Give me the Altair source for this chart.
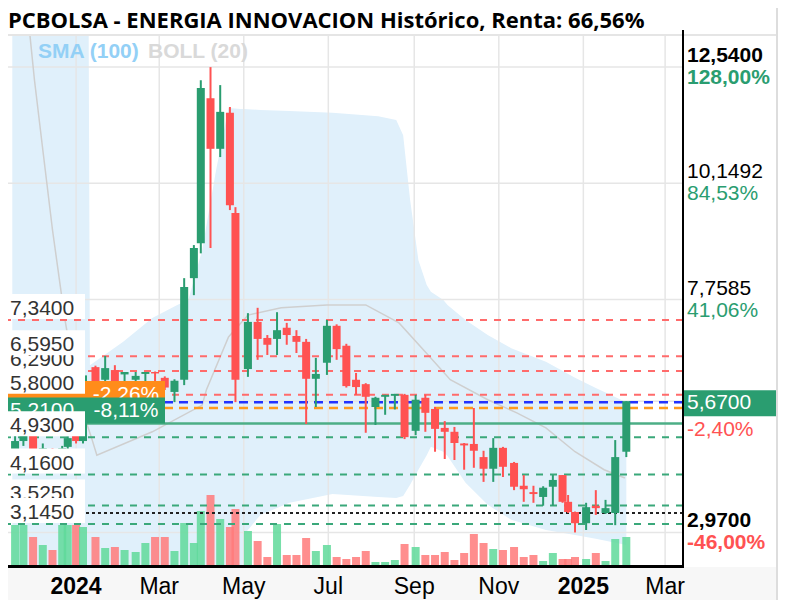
import altair as alt
import pandas as pd

# ---------------- weekly candles ----------------
candle_dates = [
    "2023-11-18", "2023-11-24", "2023-12-01", "2023-12-08", "2023-12-15", "2023-12-22", "2023-12-26",
    "2024-01-01", "2024-01-06", "2024-01-15", "2024-01-22", "2024-01-29", "2024-02-05", "2024-02-13", "2024-02-20", "2024-02-27",
    "2024-03-05", "2024-03-12", "2024-03-19", "2024-03-26", "2024-03-31", "2024-04-07", "2024-04-14", "2024-04-21", "2024-04-25",
    "2024-05-04", "2024-05-11", "2024-05-18", "2024-05-25", "2024-06-01", "2024-06-08", "2024-06-15", "2024-06-22", "2024-06-30",
    "2024-07-07", "2024-07-14", "2024-07-21", "2024-07-28", "2024-08-04", "2024-08-11", "2024-08-18", "2024-08-25", "2024-09-02",
    "2024-09-09", "2024-09-16", "2024-09-23", "2024-09-30", "2024-10-07", "2024-10-14", "2024-10-21", "2024-10-28", "2024-11-04",
    "2024-11-12", "2024-11-19", "2024-11-26", "2024-12-03", "2024-12-10", "2024-12-17", "2024-12-21", "2024-12-26",
    "2025-01-03", "2025-01-10", "2025-01-17", "2025-01-24", "2025-02-01",
]
opens = [
    4.60, 4.85, 5.00, 4.60, 4.65, 4.30, 4.73,
    5.05, 4.85, 6.37, 6.11, 6.31, 6.22, 6.11, 6.23, 6.27,
    6.15, 5.86, 6.11, 8.20, 8.92, 11.90, 10.86, 11.60, 9.54,
    6.33, 7.30, 6.97, 6.95, 7.18, 7.01, 6.89, 6.13, 6.46,
    7.22, 6.81, 6.11, 6.02, 5.55, 5.76, 5.78, 5.80, 5.06,
    5.74, 5.51, 5.12, 5.04, 4.80, 4.79, 4.52, 4.28, 4.71,
    4.40, 3.93, 3.80, 3.70, 3.91, 4.15, 3.60, 3.39,
    3.16, 3.52, 3.37, 3.37, 4.63,
]
highs = [
    5.00, 5.10, 5.05, 4.80, 4.70, 4.75, 4.95,
    5.10, 6.30, 6.40, 6.60, 6.41, 6.27, 6.27, 6.27, 6.28,
    6.18, 6.12, 8.20, 8.88, 12.27, 12.54, 12.17, 11.72, 9.66,
    7.48, 7.59, 7.03, 7.50, 7.28, 7.13, 6.95, 6.56, 7.34,
    7.25, 6.85, 6.25, 6.04, 5.76, 5.80, 5.82, 5.82, 5.80,
    5.80, 5.55, 5.26, 5.14, 4.81, 5.53, 4.65, 4.91, 4.73,
    4.42, 4.15, 3.93, 3.92, 4.15, 4.15, 3.74, 3.40,
    3.58, 3.84, 3.64, 4.87, 5.67,
]
lows = [
    4.50, 4.75, 4.50, 4.40, 4.20, 4.20, 4.60,
    4.80, 4.80, 6.00, 6.00, 6.00, 6.00, 6.00, 6.00, 6.00,
    5.90, 5.65, 6.00, 7.85, 8.71, 8.82, 10.69, 9.60, 5.65,
    6.17, 6.52, 6.62, 6.62, 6.83, 6.66, 5.20, 5.55, 6.21,
    6.52, 5.95, 5.80, 5.02, 5.18, 5.39, 5.50, 4.89, 4.97,
    5.04, 4.63, 4.48, 4.46, 4.26, 4.30, 4.01, 4.01, 4.11,
    3.84, 3.60, 3.58, 3.52, 3.52, 3.58, 3.37, 2.97,
    3.02, 3.33, 3.35, 3.12, 4.52,
]
closes = [
    4.85, 5.00, 4.60, 4.70, 4.30, 4.70, 4.91,
    4.85, 6.20, 6.05, 6.35, 6.07, 6.27, 6.19, 6.27, 6.24,
    5.95, 6.09, 8.02, 8.82, 12.11, 10.86, 11.62, 9.70, 6.11,
    7.30, 6.95, 6.83, 7.13, 7.03, 6.89, 6.13, 6.23, 7.22,
    6.74, 5.98, 5.96, 5.76, 5.74, 5.80, 5.82, 4.93, 5.70,
    5.43, 5.10, 5.04, 4.81, 4.76, 4.65, 4.28, 4.71, 4.32,
    3.91, 3.86, 3.76, 3.89, 4.05, 3.60, 3.39, 3.16,
    3.49, 3.47, 3.47, 4.52, 5.67,
]
volumes = [
    41, 41, 29, 21, 16, 41, 41,
    41, 39, 29, 18, 19, 16, 14, 23, 29,
    29, 15, 43, 23, 55, 71, 47, 39, 57,
    35, 25, 9, 42, 11, 11, 28, 15, 21,
    9, 7, 9, 15, 4, 4, 6, 22, 19,
    11, 11, 14, 6, 13, 32, 23, 17, 16,
    19, 9, 11, 5, 13, 7, 7, 9,
    7, 13, 5, 27, 29,
]

# ---------------- Bollinger band (20) envelope ----------------
band_dates = [
    "2023-11-16", "2024-01-10", "2024-01-11", "2024-02-04", "2024-02-25", "2024-03-14", "2024-03-22",
    "2024-04-01", "2024-04-11", "2024-04-20", "2024-04-29", "2024-05-01", "2024-05-13", "2024-06-03",
    "2024-07-04", "2024-08-06", "2024-08-19", "2024-08-24", "2024-08-29", "2024-09-04", "2024-09-10",
    "2024-09-13", "2024-09-22", "2024-09-25", "2024-10-08", "2024-10-24", "2024-11-10", "2024-12-05",
    "2024-12-26", "2025-01-10", "2025-02-01",
]
band_upper = [14, 14, 6.41, 6.89, 7.38, 7.65, 7.75, 8.78, 10.42, 11.70, 11.68, 11.68, 11.66, 11.64,
              11.60, 11.53, 11.45, 11.14, 9.81, 8.57, 8.06, 7.92, 7.75, 7.65, 7.34, 7.03, 6.76, 6.48,
              6.15, 5.94, 5.65]
band_lower = [1, 1, 1, 1, 1, 1, 1, 1, 1, 1, 1, 2.92, 3.33, 3.58, 3.76, 3.70, 3.68, 3.72, 3.95, 4.26,
              4.56, 4.73, 4.63, 4.54, 3.99, 3.54, 3.23, 3.02, 2.92, 2.84, 2.71]

# ---------------- SMA (100) ----------------
sma_dates = [
    "2023-11-28", "2023-12-02", "2023-12-08", "2023-12-15", "2023-12-24", "2024-01-03", "2024-01-12",
    "2024-01-16", "2024-02-25", "2024-04-01", "2024-04-04", "2024-04-20", "2024-05-04", "2024-05-28",
    "2024-06-30", "2024-07-28", "2024-08-21", "2024-09-11", "2024-09-27", "2024-10-24", "2024-11-14",
    "2024-12-05", "2024-12-26", "2025-01-16", "2025-01-31",
]
sma_values = [13.4, 12.27, 10.84, 9.19, 7.34, 5.70, 4.93, 4.56, 5.04, 5.59, 5.90, 6.99, 7.44, 7.59,
              7.65, 7.65, 7.28, 6.62, 6.11, 5.70, 5.43, 5.12, 4.63, 4.26, 4.09]

# ---------------- levels & labels ----------------
red_levels = [7.34, 6.29, 6.595, 5.80]
red_labels = ["7,3400", "6,2900", "6,5950", "5,8000"]
green_levels = [4.93, 4.16, 3.525, 3.145]
green_labels = ["4,9300", "4,1600", "3,5250", "3,1450"]
blue_level = 5.65
orange_level = 5.53
orange_label = "-2,26%"
green_line_level = 5.21
green_line_labels = ["5,2100", "-8,11%"]
dotted_level = 3.37

axis_values = [12.54, 10.1492, 7.7585, 5.67, 2.97]
axis_prices = ["12,5400", "10,1492", "7,7585", "5,6700", "2,9700"]
axis_pcts = ["128,00%", "84,53%", "41,06%", "-2,40%", "-46,00%"]

tick_dates = ["2024-01-01", "2024-03-01", "2024-05-01", "2024-07-01", "2024-09-01",
              "2024-11-01", "2025-01-01", "2025-03-01"]
tick_labels = ["2024", "Mar", "May", "Jul", "Sep", "Nov", "2025", "Mar"]
tick_is_year = [True, False, False, False, False, False, True, False]

title_text = "PCBOLSA - ENERGIA INNOVACION Histórico, Renta: 66,56%"

# ---------------- styling ----------------
W, H = 675, 530
GREEN = "#2a9d70"
RED = "#ff5252"
VGREEN = "#5fd99a"
VRED = "#ff7a7a"
BAND = "#e0f0fb"
GRID = "#e6e6e6"
FONT = "Liberation Sans, Arial, Helvetica, sans-serif"

XS = alt.Scale(domain=[alt.DateTime(year=2023, month=11, date=16, hours=12, utc=True),
                       alt.DateTime(year=2025, month=3, date=10, hours=7, utc=True)])
YS = alt.Scale(domain=[2.28, 13.18], nice=False, zero=False)


def X(field="date"):
    return alt.X(f"{field}:T", scale=XS, axis=None)


def Y(field):
    return alt.Y(f"{field}:Q", scale=YS, axis=None)


cdf = pd.DataFrame({"date": candle_dates, "open": opens, "high": highs, "low": lows,
                    "close": closes, "vol": volumes})
cdf["dir"] = ["up" if c >= o else "down" for o, c in zip(opens, closes)]

bdf = pd.DataFrame({"date": band_dates, "up": band_upper, "lo": band_lower})
sdf = pd.DataFrame({"date": sma_dates, "v": sma_values})
one = pd.DataFrame({"k": [0]})


def lvl(values):
    return pd.DataFrame({"v": values})


def ytxt(values, labels, xpix, **kw):
    d = pd.DataFrame({"v": values, "t": labels})
    return alt.Chart(d).mark_text(**kw).encode(x=alt.value(xpix), y=Y("v"), text=alt.Text("t:N"))


def hbox(value, xc, size, thickness, color, yoff):
    return alt.Chart(lvl([value])).mark_tick(orient="horizontal", thickness=thickness, size=size,
                                             color=color, opacity=1, yOffset=yoff).encode(
        x=alt.value(xc), y=Y("v"))


layers = []

# bottom axis strip
layers.append(alt.Chart(one).mark_rect(color="#f7f7f7").encode(
    x=alt.value(0), x2=alt.value(770), y=alt.value(531), y2=alt.value(564)))

# Bollinger band
layers.append(alt.Chart(bdf).mark_area(color=BAND, opacity=1, clip=True).encode(
    x=X(), y=Y("up"), y2="lo:Q"))

# grid
layers.append(alt.Chart(pd.DataFrame({"date": tick_dates})).mark_rule(color=GRID, strokeWidth=1.5).encode(x=X()))
layers.append(alt.Chart(lvl(axis_values)).mark_rule(color=GRID, strokeWidth=1.5).encode(y=Y("v")))

# SMA
layers.append(alt.Chart(sdf).mark_line(color="#cfcfcf", strokeWidth=1.5, clip=True).encode(x=X(), y=Y("v")))

# volume
layers.append(alt.Chart(cdf).mark_bar(width=8, opacity=0.85).encode(
    x=X(),
    y=alt.Y("vol:Q", scale=alt.Scale(domain=[0, H]), axis=None),
    color=alt.Color("dir:N", scale=alt.Scale(domain=["up", "down"], range=[VGREEN, VRED]), legend=None)))

# level lines
layers.append(alt.Chart(lvl([blue_level])).mark_rule(color="#2233ff", strokeWidth=2.5, strokeDash=[9, 6]).encode(y=Y("v")))
layers.append(alt.Chart(lvl([orange_level])).mark_rule(color="#ff9a1f", strokeWidth=2.5, strokeDash=[9, 6]).encode(y=Y("v")))
layers.append(alt.Chart(lvl([green_line_level])).mark_rule(color="#4cae86", strokeWidth=2.5).encode(y=Y("v")))
layers.append(alt.Chart(lvl([dotted_level])).mark_rule(color="#222222", strokeWidth=2, strokeDash=[3, 3]).encode(y=Y("v")))
layers.append(alt.Chart(lvl(red_levels)).mark_rule(color="#ff6b6b", strokeWidth=2, strokeDash=[7, 7]).encode(y=Y("v")))
layers.append(alt.Chart(lvl(green_levels)).mark_rule(color="#3aa87a", strokeWidth=2, strokeDash=[7, 7]).encode(y=Y("v")))

# candles
ccol = alt.Color("dir:N", scale=alt.Scale(domain=["up", "down"], range=[GREEN, RED]), legend=None)
layers.append(alt.Chart(cdf).mark_rule(strokeWidth=2).encode(x=X(), y=Y("low"), y2="high:Q", color=ccol))
layers.append(alt.Chart(cdf).mark_bar(width=8).encode(x=X(), y=Y("open"), y2="close:Q", color=ccol))

# left label boxes, drawn one after another so that later boxes cover earlier texts
lk = dict(align="left", baseline="middle", font=FONT, fontSize=21)


def white_label(value, label):
    layers.append(hbox(value, 38.5, 77, 25, "white", -13.5))
    layers.append(ytxt([value], [label], 2, dy=-11, color="#333333", **lk))


for v, t in zip(red_levels[:3], red_labels[:3]):
    white_label(v, t)

# orange + green tag boxes
layers.append(hbox(orange_level, 78.5, 157, 27, "#ff8c1a", -13.5))
layers.append(ytxt([orange_level], [orange_label], 118, align="center", baseline="middle", dy=-13,
                   font=FONT, fontSize=21, color="white"))
layers.append(hbox(green_line_level, 78.5, 157, 26, GREEN, -13))
layers.append(ytxt([green_line_level], [green_line_labels[0]], 2, dy=-13, color="white", **lk))
layers.append(ytxt([green_line_level], [green_line_labels[1]], 118, align="center", baseline="middle", dy=-13,
                   font=FONT, fontSize=21, color="white"))

white_label(red_levels[3], red_labels[3])
for v, t in zip(green_levels, green_labels):
    white_label(v, t)

# right-hand axis labels
layers.append(hbox(axis_values[3], 723, 96, 26, GREEN, 2))
rk = dict(align="left", baseline="middle", font=FONT, fontSize=21)
layers.append(ytxt([axis_values[0], axis_values[4]], [axis_prices[0], axis_prices[4]], 679, dy=-11,
                   fontWeight="bold", color="black", **rk))
layers.append(ytxt(axis_values[1:3], axis_prices[1:3], 679, dy=-11, color="black", **rk))
layers.append(ytxt([axis_values[3]], [axis_prices[3]], 679, dy=2, color="white", **rk))
layers.append(ytxt([axis_values[0]], [axis_pcts[0]], 679, dy=11, fontWeight="bold", color=GREEN, **rk))
layers.append(ytxt(axis_values[1:3], axis_pcts[1:3], 679, dy=11, color=GREEN, **rk))
layers.append(ytxt([axis_values[3]], [axis_pcts[3]], 679, dy=29, color=RED, **rk))
layers.append(ytxt([axis_values[4]], [axis_pcts[4]], 679, dy=11, fontWeight="bold", color=RED, **rk))

# x-axis labels
tdf = pd.DataFrame({"date": tick_dates, "t": tick_labels, "yr": tick_is_year})
layers.append(alt.Chart(tdf[tdf.yr]).mark_text(font=FONT, fontSize=23, fontWeight="bold", color="black",
                                               baseline="middle").encode(x=X(), y=alt.value(551), text="t:N"))
layers.append(alt.Chart(tdf[~tdf.yr]).mark_text(font=FONT, fontSize=23, color="black",
                                                baseline="middle").encode(x=X(), y=alt.value(551), text="t:N"))

# frame lines
layers.append(alt.Chart(one).mark_rule(color="#dddddd", strokeWidth=1.5).encode(
    x=alt.value(0), x2=alt.value(770), y=alt.value(-1)))
layers.append(alt.Chart(one).mark_rule(color="#dddddd", strokeWidth=2).encode(
    x=alt.value(769), y=alt.value(-28), y2=alt.value(564)))
layers.append(alt.Chart(one).mark_rule(color="black", strokeWidth=2).encode(
    x=alt.value(675), y=alt.value(-6), y2=alt.value(531)))
layers.append(alt.Chart(one).mark_rule(color="black", strokeWidth=3).encode(
    x=alt.value(0), x2=alt.value(676), y=alt.value(530.5)))

# title and legend
layers.append(alt.Chart(one).mark_text(align="left", baseline="middle", font="Open Sans", fontSize=22,
                                       fontWeight="bold", color="black").encode(
    x=alt.value(0), y=alt.value(-15), text=alt.value(title_text)))
layers.append(alt.Chart(one).mark_text(align="left", baseline="middle", font=FONT, fontSize=21,
                                       fontWeight="bold", color="#93d0f6").encode(
    x=alt.value(30), y=alt.value(16), text=alt.value("SMA (100)")))
layers.append(alt.Chart(one).mark_text(align="left", baseline="middle", font=FONT, fontSize=21,
                                       fontWeight="bold", color="#d9d9d9").encode(
    x=alt.value(140), y=alt.value(16), text=alt.value("BOLL (20)")))

chart = alt.layer(*layers).resolve_scale(y="independent", color="independent").properties(
    width=W, height=H,
    autosize=alt.AutoSizeParams(type="none"),
    padding={"left": 0, "top": 28, "right": 95, "bottom": 34},
    background="white",
).configure_view(stroke=None)

chart.save("out.html", embed_options={"renderer": "svg", "actions": False})
